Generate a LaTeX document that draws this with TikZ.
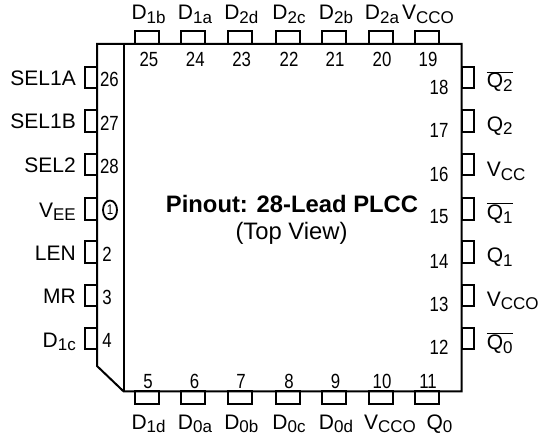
\documentclass[tikz,border=0pt]{standalone}
\usetikzlibrary{shapes.geometric}
\usepackage{fontspec}
\setmainfont{Liberation Sans}
\newfontfamily\numfont[FakeStretch=0.82]{Liberation Sans}
\newcommand{\lowtxt}[1]{\raisebox{-3.5pt}{\fontsize{17}{17}\selectfont #1}}
\newcommand{\barQ}[1]{$\overline{\hbox{Q\lowtxt{#1}}}$}
\begin{document}
\begin{tikzpicture}[
    x=1pt, y=-1pt,
    body/.style={line width=2pt},
    hpin/.style={rectangle, draw, line width=2pt, inner sep=0pt, minimum width=24pt, minimum height=13pt},
    vpin/.style={rectangle, draw, line width=2pt, inner sep=0pt, minimum width=12pt, minimum height=21.5pt},
    pinnum/.style={inner sep=0pt, font=\numfont\fontsize{20.5}{21}\selectfont},
    pinname/.style={inner sep=0pt, font=\fontsize{21}{21}\selectfont},
    title/.style={inner sep=0pt, font=\fontsize{23.8}{26}\selectfont}
]
    \useasboundingbox (0,0) rectangle (541,441);

    % Package outline
    \draw[body] (123.5,44) -- (97,44) -- (97,366) -- (123.5,391.3) -- (461.7,391.3) -- (461.7,44) -- cycle;
    \draw[body] (123.5,44) -- (123.5,391.3);

    % Top row
    \node[hpin] (pin25) at (147,38) {};
    \node[hpin] (pin24) at (193.3,38) {};
    \node[hpin] (pin23) at (239.6,38) {};
    \node[hpin] (pin22) at (288,38) {};
    \node[hpin] (pin21) at (334.3,38) {};
    \node[hpin] (pin20) at (380.6,38) {};
    \node[hpin] (pin19) at (427,38) {};
    \node[pinnum] (num25) at (149,59) {25};
    \node[pinnum] (num24) at (195.3,59) {24};
    \node[pinnum] (num23) at (241.6,59) {23};
    \node[pinnum] (num22) at (289,59) {22};
    \node[pinnum] (num21) at (335,59) {21};
    \node[pinnum] (num20) at (382,59) {20};
    \node[pinnum] (num19) at (428,59) {19};
    \node[pinname, anchor=base] (name25) at (148.6,20) {D\lowtxt{1b}};
    \node[pinname, anchor=base] (name24) at (195,20) {D\lowtxt{1a}};
    \node[pinname, anchor=base] (name23) at (241.3,20) {D\lowtxt{2d}};
    \node[pinname, anchor=base] (name22) at (289,20) {D\lowtxt{2c}};
    \node[pinname, anchor=base] (name21) at (336,20) {D\lowtxt{2b}};
    \node[pinname, anchor=base] (name20) at (382,20) {D\lowtxt{2a}};
    \node[pinname, anchor=base] (name19) at (428,20) {V\lowtxt{CCO}};

    % Left row
    \node[vpin] (pin26) at (91,77.5) {};
    \node[vpin] (pin27) at (91,121) {};
    \node[vpin] (pin28) at (91,164.5) {};
    \node[vpin] (pin1) at (91,209) {};
    \node[vpin] (pin2) at (91,252) {};
    \node[vpin] (pin3) at (91,295.5) {};
    \node[vpin] (pin4) at (91,338.5) {};
    \node[pinnum] (num26) at (109.5,79.5) {26};
    \node[pinnum] (num27) at (109.5,123) {27};
    \node[pinnum] (num28) at (109.5,166.5) {28};
    \node[pinnum, draw, ellipse, line width=1.8pt, inner sep=0pt, minimum width=14pt, minimum height=19pt, font=\numfont\fontsize{14}{14}\selectfont] (num1) at (110,210) {1};
    \node[pinnum] (num2) at (107,254) {2};
    \node[pinnum] (num3) at (107,297) {3};
    \node[pinnum] (num4) at (107,340) {4};
    \node[pinname, anchor=base east] (name26) at (76,86) {SEL1A};
    \node[pinname, anchor=base east] (name27) at (76,129) {SEL1B};
    \node[pinname, anchor=base east] (name28) at (76,172.7) {SEL2};
    \node[pinname, anchor=base east] (name1) at (76,217) {V\lowtxt{EE}};
    \node[pinname, anchor=base east] (name2) at (76,260) {LEN};
    \node[pinname, anchor=base east] (name3) at (76,303) {MR};
    \node[pinname, anchor=base east] (name4) at (76,347) {D\lowtxt{1c}};

    % Bottom row
    \node[hpin] (pin5) at (147,397.5) {};
    \node[hpin] (pin6) at (193.3,397.5) {};
    \node[hpin] (pin7) at (239.6,397.5) {};
    \node[hpin] (pin8) at (288,397.5) {};
    \node[hpin] (pin9) at (334.3,397.5) {};
    \node[hpin] (pin10) at (380.6,397.5) {};
    \node[hpin] (pin11) at (427,397.5) {};
    \node[pinnum] (num5) at (148,381.5) {5};
    \node[pinnum] (num6) at (194.5,381.5) {6};
    \node[pinnum] (num7) at (241,381.5) {7};
    \node[pinnum] (num8) at (289,381.5) {8};
    \node[pinnum] (num9) at (335.5,381.5) {9};
    \node[pinnum] (num10) at (382,381.5) {10};
    \node[pinnum] (num11) at (428,381.5) {11};
    \node[pinname, anchor=base] (name5) at (148.6,429) {D\lowtxt{1d}};
    \node[pinname, anchor=base] (name6) at (195,429) {D\lowtxt{0a}};
    \node[pinname, anchor=base] (name7) at (241.3,429) {D\lowtxt{0b}};
    \node[pinname, anchor=base] (name8) at (289,429) {D\lowtxt{0c}};
    \node[pinname, anchor=base] (name9) at (336,429) {D\lowtxt{0d}};
    \node[pinname, anchor=base] (name10) at (390,429) {V\lowtxt{CCO}};
    \node[pinname, anchor=base] (name11) at (439.5,429) {Q\lowtxt{0}};

    % Right row
    \node[vpin] (pin18) at (467.7,77.5) {};
    \node[vpin] (pin17) at (467.7,121) {};
    \node[vpin] (pin16) at (467.7,164.5) {};
    \node[vpin] (pin15) at (467.7,209) {};
    \node[vpin] (pin14) at (467.7,252) {};
    \node[vpin] (pin13) at (467.7,295.5) {};
    \node[vpin] (pin12) at (467.7,338.5) {};
    \node[pinnum] (num18) at (439,87) {18};
    \node[pinnum] (num17) at (439,130) {17};
    \node[pinnum] (num16) at (439,174) {16};
    \node[pinnum] (num15) at (439,217) {15};
    \node[pinnum] (num14) at (439,261) {14};
    \node[pinnum] (num13) at (439,304) {13};
    \node[pinnum] (num12) at (439,347) {12};
    \node[pinname, anchor=base west] (name18) at (486.7,88) {\barQ{2}};
    \node[pinname, anchor=base west] (name17) at (486.7,131.5) {Q\lowtxt{2}};
    \node[pinname, anchor=base west] (name16) at (486.7,176.5) {V\lowtxt{CC}};
    \node[pinname, anchor=base west] (name15) at (486.7,219.5) {\barQ{1}};
    \node[pinname, anchor=base west] (name14) at (486.7,262.5) {Q\lowtxt{1}};
    \node[pinname, anchor=base west] (name13) at (486.7,306) {V\lowtxt{CCO}};
    \node[pinname, anchor=base west] (name12) at (486.7,349.5) {\barQ{0}};

    % Title
    \node[title, font=\bfseries\fontsize{23.8}{26}\selectfont] (heading) at (292,204) {Pinout: 28-Lead PLCC};
    \node[title] (subheading) at (291.5,233.5) {(Top View)};
\end{tikzpicture}
\end{document}
